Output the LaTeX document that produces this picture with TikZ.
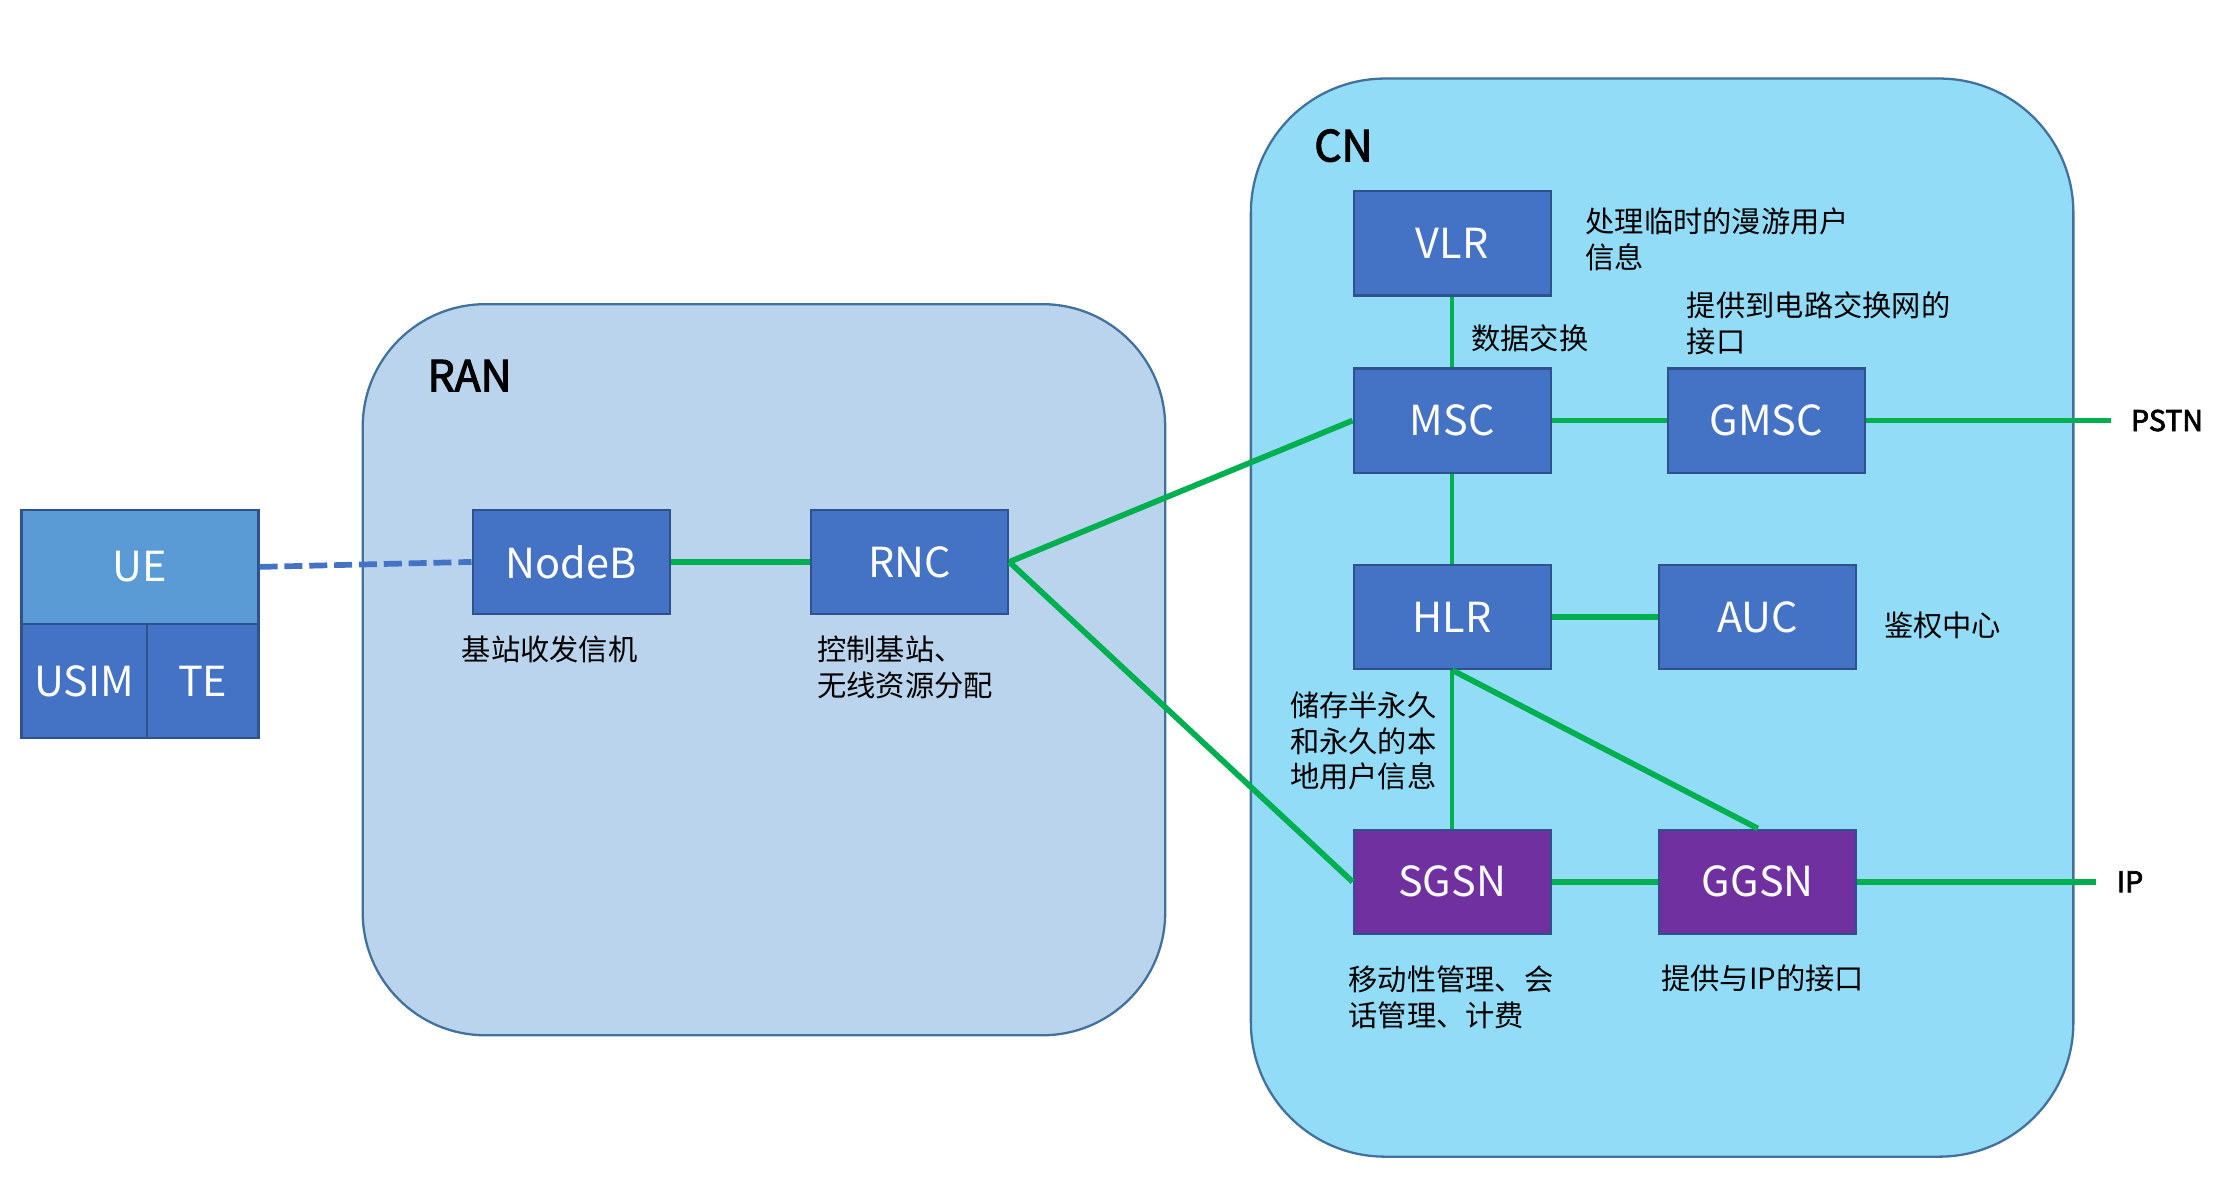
\documentclass[tikz,border=0pt]{standalone}
\usepackage{fontspec}
\newfontfamily\cjk{Noto Sans CJK SC}
\newfontfamily\cjkmed[FakeBold=2.5]{Noto Sans CJK SC}
\definecolor{boxblue}{HTML}{4472C4}
\definecolor{uelight}{HTML}{5B9BD5}
\definecolor{boxborder}{HTML}{2F528F}
\definecolor{nodepurple}{HTML}{7030A0}
\definecolor{linkgreen}{HTML}{00B050}
\definecolor{areaborder}{HTML}{41719C}
\definecolor{ranfill}{HTML}{B9D4EC}
\definecolor{cnfill}{HTML}{93DCF7}
\begin{document}
\begin{tikzpicture}[x=0.5pt,y=-0.5pt]
	\tikzstyle{block} = [rectangle,draw=boxborder,line width=0.8pt,fill=boxblue,text=white,minimum width=69pt,minimum height=36.5pt,inner sep=0pt,font=\cjk\fontsize{14.5}{16}\selectfont]
	\tikzstyle{pblock} = [block,fill=nodepurple]
	\tikzstyle{note} = [anchor=west,inner sep=0pt,align=left,font=\cjk\fontsize{10.25}{12.5}\selectfont]
	\tikzstyle{title} = [anchor=west,inner sep=0pt,font=\cjkmed\fontsize{15}{18}\selectfont]
	\tikzstyle{ext} = [anchor=west,inner sep=0pt,inner xsep=7pt,font=\cjkmed\fontsize{10}{12}\selectfont]
	\tikzstyle{area} = [draw=areaborder,line width=0.8pt]
	\tikzstyle{link} = [color=linkgreen,line width=2pt]
	\useasboundingbox (0,0) rectangle (1568,832);
	% RAN and CN areas
	\draw[area,fill=ranfill,rounded corners=43pt] (254,213) rectangle (816,725);
	\draw[area,fill=cnfill,rounded corners=47pt] (876,55) rectangle (1452,810);
	\node[title](ran)at(299,263){RAN};
	\node[title](cn)at(920,102){CN};
	% UE
	\node[block,fill=uelight,minimum width=83pt,minimum height=40pt](UE)at(98,397){UE};
	\node[block,minimum width=44pt,minimum height=40pt](USIM)at(59,477){USIM};
	\node[block,minimum width=39pt,minimum height=40pt](TE)at(142,477){TE};
	% RAN
	\node[block](NodeB)at(400,393.5){NodeB};
	\node[block](RNC)at(637,393.5){RNC};
	\node[note](nodebnote)at(323,455){基站收发信机};
	\node[note](rncnote)at(572,467.5){控制基站、\\无线资源分配};
	% CN
	\node[block](VLR)at(1017,170.5){VLR};
	\node[block](MSC)at(1017,294.5){MSC};
	\node[block](GMSC)at(1237,294.5){GMSC};
	\node[block](HLR)at(1017,432){HLR};
	\node[block](AUC)at(1231,432){AUC};
	\node[pblock](SGSN)at(1017,617.5){SGSN};
	\node[pblock](GGSN)at(1231,617.5){GGSN};
	\node[note](vlrnote)at(1110,167.5){处理临时的漫游用户\\信息};
	\node[note](swapnote)at(1030,237){数据交换};
	\node[note](gmscnote)at(1181,226.5){提供到电路交换网的\\接口};
	\node[note](aucnote)at(1319,438){鉴权中心};
	\node[note](hlrnote)at(903,519){储存半永久\\和永久的本\\地用户信息};
	\node[note](sgsnnote)at(944,698.5){移动性管理、会\\话管理、计费};
	\node[note](ggsnnote)at(1163,685){提供与IP的接口};
	\node[ext](PSTN)at(1478,294.5){PSTN};
	\node[ext](IP)at(1468,617.5){IP};
	% links
	\draw[color=boxblue,line width=2pt,dash pattern=on 6.3pt off 2.4pt] (UE.east) -- (NodeB.west);
	\path[link] (NodeB) edge (RNC)
	(RNC.east) edge (MSC.west)
	(RNC.east) edge (SGSN.west)
	(MSC) edge (GMSC)
	(GMSC) edge (PSTN)
	(HLR) edge (AUC)
	(HLR.south) edge (GGSN.north)
	(SGSN) edge (GGSN)
	(GGSN) edge (IP);
	\path[link,line width=1.4pt] (VLR) edge (MSC)
	(MSC) edge (HLR)
	(HLR) edge (SGSN);
\end{tikzpicture}
\end{document}
